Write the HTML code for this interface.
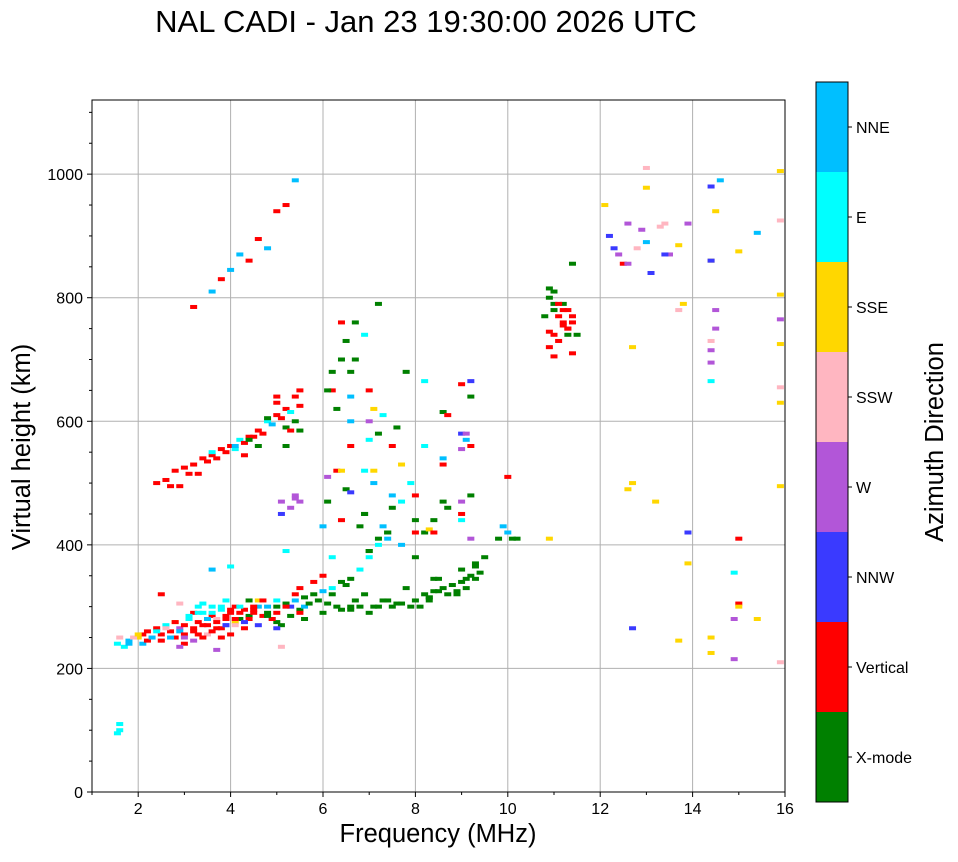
<!DOCTYPE html>
<html><head><meta charset="utf-8"><style>
body{margin:0;background:#fff;}
svg text{font-family:"Liberation Sans",sans-serif;}
</style></head><body>
<svg id="chart" width="958" height="857" xmlns="http://www.w3.org/2000/svg">
<text x="426" y="32" font-size="31" text-anchor="middle">NAL CADI - Jan 23 19:30:00 2026 UTC</text>
<g id="grid"></g>
<g id="marks"></g>
<rect x="92" y="100" width="693" height="692" fill="none" stroke="#000" stroke-width="1"/>
<g id="axes"></g>
<text x="438" y="842" font-size="25.5" text-anchor="middle">Frequency (MHz)</text>
<text transform="translate(30,447) rotate(-90)" font-size="25.5" text-anchor="middle">Virtual height (km)</text>
<g id="cbar"></g>
<text transform="translate(943,442) rotate(-90)" font-size="25.5" text-anchor="middle">Azimuth Direction</text>
</svg>
<script>
const dirLabels=["X-mode","Vertical","NNW","W","SSW","SSE","E","NNE"];
const dirColors=["#008000","#ff0000","#3a3aff","#b256d8","#ffb6c1","#ffd700","#00ffff","#00bfff"];
const xTicks=[2,4,6,8,10,12,14,16];
const yTicks=[0,200,400,600,800,1000];
const freqs=[1.55,1.6,1.8,2.0,2.1,2.2,2.3,2.4,2.5,2.6,2.7,2.8,2.9,3.0,3.1,3.2,3.3,3.4,3.5,3.6,3.7,3.8,3.9,4.0,4.1,4.2,4.3,4.4,4.6,4.8,5.0,5.2,5.4,5.6,5.8,6.0,6.2,6.4,6.6,6.8,7.0,7.2,7.4,3.0,3.3,2.8,3.6,3.9,4.0,3.6,5.2,2.5,2.9,3.2,3.5,3.8,4.1,4.5,4.9,5.3,
6.0,6.4,6.8,7.2,7.6,8.0,8.2,8.4,8.6,8.8,9.0,9.2,9.3,9.5,9.0,8.5,7.0,5.6,5.0,6.6,7.8,8.3,8.9,9.4,7.4,
2.4,2.6,2.8,3.0,3.2,3.4,3.6,3.8,4.0,4.2,4.4,4.6,4.8,5.0,5.2,5.4,5.5,5.2,5.4,4.6,3.6,4.1,5.0,4.3,3.1,2.7,
3.6,3.8,4.0,4.2,4.4,4.6,5.0,5.2,3.2,4.8,5.4,
6.0,6.1,6.3,6.5,6.6,6.7,6.9,7.0,7.1,7.2,7.3,7.5,7.7,7.9,6.2,6.8,7.0,6.4,6.6,7.6,8.0,8.2,8.4,8.7,9.0,9.2,8.6,9.1,7.2,6.9,
10.9,11.0,11.1,11.2,11.3,10.9,11.0,11.4,11.2,10.8,11.1,11.3,11.0,11.2,
9.9,10.0,10.1,9.8,10.2,5.1,5.3,5.4,1.55,1.6,
12.1,12.3,12.5,12.6,12.8,12.9,13.0,13.1,13.3,13.5,13.7,13.9,14.4,14.5,14.6,15.0,15.4,15.9,12.2,12.4,12.6,13.0,13.4,12.7,13.8,14.4,14.5,15.9,15.9,15.9,15.9,15.9,15.9,15.9,13.0,13.4,13.7,13.9,14.4,14.4,14.5,14.4,14.4,14.4,15.0,15.0,15.0,15.4,12.7,12.6,13.2,13.9,14.9,14.9,14.9,12.7,14.4,15.9,14.4,13.7,
1.6,1.7,1.8,1.9,2.0,2.1,2.2,2.3,2.4,2.5,2.6,2.7,2.8,2.9,3.0,3.0,3.1,3.2,3.2,3.3,3.4,3.4,3.5,3.6,3.6,3.7,3.7,3.8,3.8,3.9,3.9,4.0,4.0,4.1,4.1,4.2,4.2,4.3,4.4,4.5,4.5,4.6,4.7,4.8,4.9,5.0,5.0,5.1,5.2,5.3,5.4,5.5,5.5,5.6,5.7,5.8,5.9,6.0,6.1,6.2,6.3,6.5,6.7,6.9,7.1,7.3,7.5,7.7,7.9,8.1,8.3,8.3,8.5,8.7,8.9,9.1,9.1,9.3,9.3,8.0,8.4,7.0,6.6,4.8,4.3,3.9,5.0,4.6,3.4,3.3,2.9,3.7,5.1,5.5,4.4,4.7,
2.5,2.9,3.3,3.5,3.7,3.9,4.1,4.3,4.5,4.7,4.9,5.1,5.3,5.5,5.0,5.3,5.5,4.8,4.4,5.2,5.4,5.5,5.1,
6.6,6.7,6.5,6.4,6.2,6.1,6.3,6.6,7.1,7.3,6.6,7.0,7.5,7.7,6.9,6.4,6.1,7.1,7.7,7.5,6.9,7.2,7.0,7.4,7.4,6.2,6.4,8.0,8.2,8.6,9.0,9.1,9.2,8.7,9.2,9.0,9.2,9.2,9.0,9.0,8.3,8.6,8.6,9.0,10.0,7.8,8.2,8.0,8.4,
10.9,11.0,10.9,11.1,11.3,11.2,10.9,11.0,11.4,11.4,11.5,11.3,11.4];
const heights=[240,250,245,250,255,260,250,265,255,270,260,250,265,270,280,260,275,290,270,285,280,295,285,290,300,280,295,285,300,290,300,305,310,315,320,325,330,340,345,360,380,400,410,240,255,275,300,310,365,360,390,245,235,290,255,265,275,295,280,300,
290,295,300,300,305,310,320,325,330,335,340,350,370,380,360,345,290,280,275,300,330,315,320,355,310,
500,505,520,525,530,540,545,555,560,570,575,585,600,610,620,640,650,590,600,560,550,555,630,545,515,495,
810,830,845,870,860,895,940,950,785,880,990,
430,470,520,490,560,700,450,600,520,580,430,480,400,500,650,430,650,760,680,590,480,420,440,460,450,410,540,570,790,740,
800,780,770,760,750,720,740,770,790,770,730,740,790,755,
430,420,410,410,410,470,460,480,95,100,
950,880,855,920,880,910,890,840,915,870,885,920,980,940,990,875,905,1005,900,870,855,1010,920,720,790,860,780,925,805,765,725,655,630,495,978,870,780,370,665,730,750,860,715,695,410,305,300,280,500,490,470,420,355,280,215,265,250,210,225,245,110,
235,240,250,255,240,245,250,260,245,265,250,275,260,255,250,285,265,245,290,270,250,280,290,260,275,265,300,250,280,270,295,255,280,270,290,300,265,280,300,290,270,285,300,280,310,290,270,300,285,320,295,330,300,305,340,310,350,305,320,300,335,310,320,300,310,300,305,300,300,310,315,325,320,325,330,345,365,345,380,345,390,295,285,275,270,265,310,305,300,305,230,235,290,310,310,320,
495,515,535,540,550,560,565,575,580,595,605,615,625,640,585,585,605,570,560,475,470,450,485,
760,730,700,680,650,620,640,620,610,600,570,560,530,520,520,510,500,470,460,450,410,390,420,420,380,440,420,560,615,580,580,560,610,665,660,640,480,470,440,425,470,530,555,510,680,665,440,420,410,
810,815,790,780,780,745,705,710,760,740,750,855,935];
const dirs=[6,4,7,5,1,1,4,1,1,6,1,1,3,1,6,1,1,6,1,1,4,6,1,1,1,0,1,0,7,0,0,0,7,0,0,7,6,0,0,6,6,6,7,1,1,5,6,6,6,7,6,4,3,1,4,1,5,1,7,2,
0,0,0,0,0,0,0,0,0,0,0,0,0,0,0,0,0,0,0,0,0,0,0,0,0,
1,1,1,1,1,1,1,1,1,6,1,1,6,1,1,1,1,0,0,0,6,6,1,1,1,1,
7,1,7,7,1,1,1,1,1,7,7,
7,0,1,0,1,0,0,3,5,0,7,7,7,6,1,0,1,1,0,0,1,0,0,0,1,3,7,7,0,6,
0,0,1,1,1,1,1,1,0,0,1,0,0,1,
7,7,0,0,0,3,3,3,6,6,
5,2,1,3,4,3,7,2,4,3,5,3,2,5,7,5,7,5,2,3,3,4,4,5,5,5,3,4,5,3,5,4,5,5,5,2,4,5,6,4,3,2,3,3,1,1,5,5,5,5,5,2,6,3,3,2,5,4,5,5,6,
6,7,4,5,7,1,7,6,1,4,7,1,7,1,3,6,1,3,6,1,1,7,6,1,1,1,6,1,1,7,1,1,1,4,1,6,1,1,1,1,2,1,7,1,6,1,0,1,0,1,0,1,7,0,1,0,1,0,0,0,0,0,0,0,0,0,0,0,0,0,0,0,0,0,0,0,0,0,0,0,0,0,0,2,2,2,5,6,6,4,3,4,1,0,1,1,
1,1,1,1,1,7,1,1,1,7,1,6,1,1,1,0,0,0,0,3,3,2,2,
0,0,0,0,0,0,7,5,6,7,6,1,5,6,5,3,7,6,0,0,0,0,0,0,6,1,1,6,0,2,3,1,1,2,1,0,0,3,6,5,0,1,3,1,0,6,0,1,5,
0,0,1,1,1,1,1,1,1,0,1,0,0];
const NS="http://www.w3.org/2000/svg";
const X0=92,X1=785,Y0=792,Y1=100,FMIN=1,FMAX=16,HMAX=1120;
function xs(f){return X0+(f-FMIN)/(FMAX-FMIN)*(X1-X0);}
function ys(h){return Y0-h/HMAX*(Y0-Y1);}
function mk(tag,at,parent){const e=document.createElementNS(NS,tag);for(const k in at)e.setAttribute(k,at[k]);parent.appendChild(e);return e;}
const grid=document.getElementById('grid'),axes=document.getElementById('axes'),marks=document.getElementById('marks'),cbar=document.getElementById('cbar');
xTicks.forEach(t=>{const x=xs(t);
 const g=mk('line',{x1:x,x2:x,y1:Y1,y2:Y0,stroke:'#b0b0b0','stroke-width':1},grid);
 
 mk('line',{x1:x,x2:x,y1:Y0,y2:Y0+5,stroke:'#000'},axes);
 const tx=mk('text',{x:x,y:Y0+22,'font-size':16,'text-anchor':'middle'},axes);tx.textContent=t;
 });
for(let f=1;f<=16;f+=1){if(f%2){const x=xs(f);mk('line',{x1:x,x2:x,y1:Y0,y2:Y0+3,stroke:'#000'},axes);}}
yTicks.forEach(t=>{const y=ys(t);
 const g=mk('line',{x1:X0,x2:X1,y1:y,y2:y,stroke:'#b0b0b0','stroke-width':1},grid);
 
 mk('line',{x1:X0-5,x2:X0,y1:y,y2:y,stroke:'#000'},axes);
 const tx=mk('text',{x:X0-9,y:y+6,'font-size':16,'text-anchor':'end'},axes);tx.textContent=t;
 });
for(let h=50;h<HMAX;h+=50){if(h%200){const y=ys(h);mk('line',{x1:X0-3,x2:X0,y1:y,y2:y,stroke:'#000'},axes);}}
for(let i=0;i<freqs.length;i++){
 const r=mk('rect',{x:xs(freqs[i])-3.5,y:ys(heights[i])-2,width:7,height:4,fill:dirColors[dirs[i]]},marks);
 
 }
const CT=82,CB=802,CX=816,CW=32,n=dirLabels.length,seg=(CB-CT)/n;
dirLabels.forEach((l,i)=>{const y=CB-(i+1)*seg;
 const r=mk('rect',{x:CX,y:y,width:CW,height:seg,fill:dirColors[i]},cbar);
 
 mk('line',{x1:CX+CW,x2:CX+CW+4,y1:y+seg/2,y2:y+seg/2,stroke:'#000'},cbar);
 const tx=mk('text',{x:CX+CW+8,y:y+seg/2+6,'font-size':16},cbar);tx.textContent=l;
 });
mk('rect',{x:CX,y:CT,width:CW,height:CB-CT,fill:'none',stroke:'#000'},cbar);
</script>
</body></html>
